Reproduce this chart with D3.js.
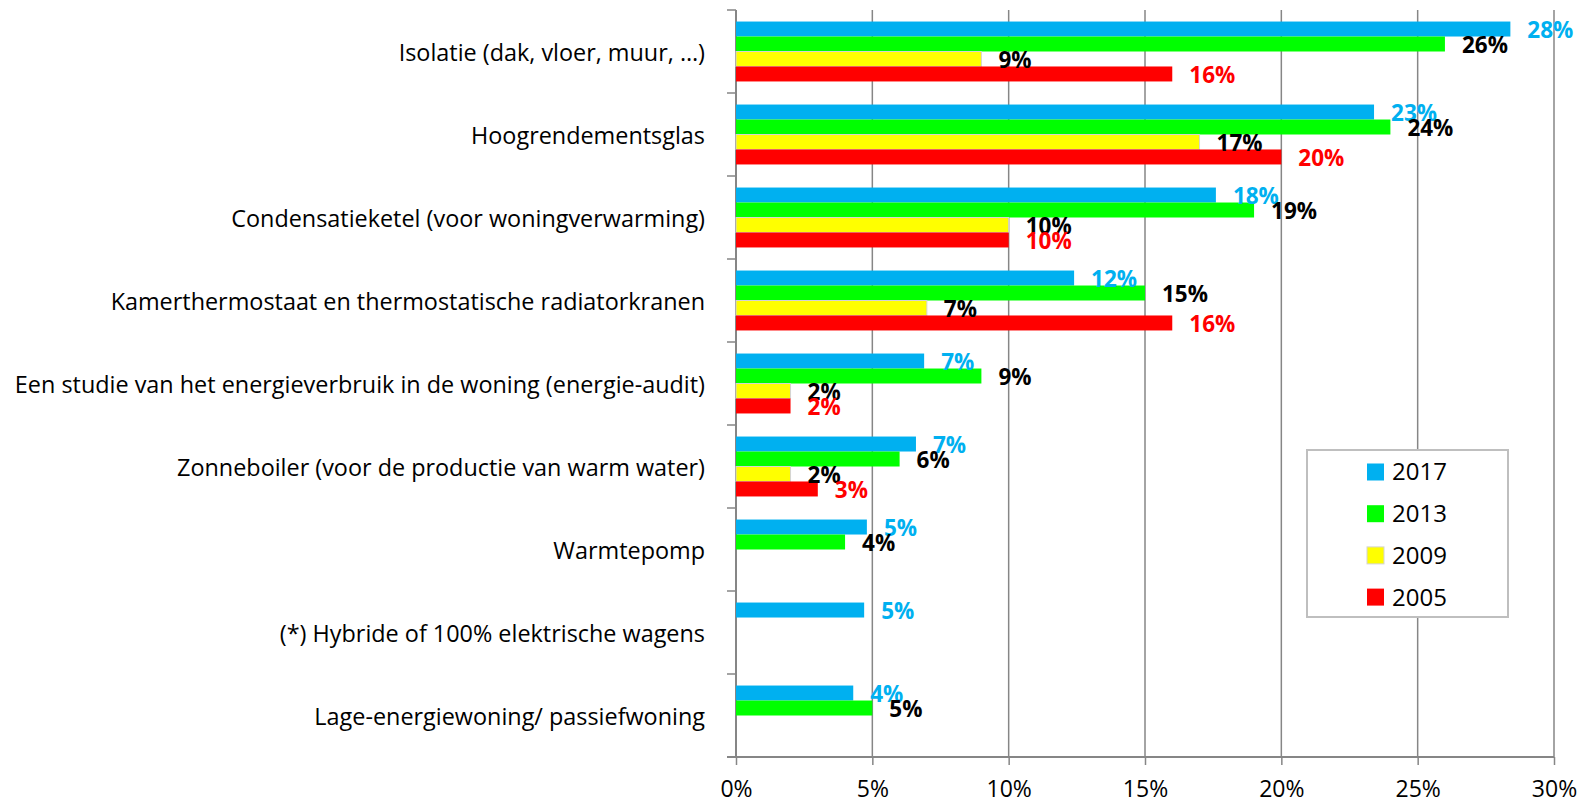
<!DOCTYPE html>
<html>
<head>
<meta charset="utf-8">
<script src="https://cdn.jsdelivr.net/npm/d3@7"></script>
<style>
  body { margin: 0; background: #fff; }
  svg text { font-family: "Open Sans", sans-serif; }
</style>
</head>
<body>
<div id="svgBody"></div>
<script>
// data (percent)
var categories = [
    "Isolatie (dak, vloer, muur, \u2026)",
    "Hoogrendementsglas",
    "Condensatieketel (voor woningverwarming)",
    "Kamerthermostaat en thermostatische radiatorkranen",
    "Een studie van het energieverbruik in de woning (energie-audit)",
    "Zonneboiler (voor de productie van warm water)",
    "Warmtepomp",
    "(*) Hybride of 100% elektrische wagens",
    "Lage-energiewoning/ passiefwoning"
];
var years = ["2017", "2013", "2009", "2005"];
var v2017 = [28.4, 23.4, 17.6, 12.4, 6.9, 6.6, 4.8, 4.7, 4.3];
var v2013 = [26, 24, 19, 15, 9, 6, 4, null, 5];
var v2009 = [9, 17, 10, 7, 2, 2, null, null, null];
var v2005 = [16, 20, 10, 16, 2, 3, null, null, null];
var xTicks = [0, 5, 10, 15, 20, 25, 30];

var barColors = {"2017": "#00b0f0", "2013": "#00ff00", "2009": "#ffff00", "2005": "#ff0000"};
var labelColors = {"2017": "#00b0f0", "2013": "#000000", "2009": "#000000", "2005": "#ff0000"};
var series = {"2017": v2017, "2013": v2013, "2009": v2009, "2005": v2005};

var svgW = 1585, svgH = 804;
var plotLeft = 736, plotRight = 1554, plotTop = 10, plotBottom = 757;
var gridColor = "#868686";

var svg = d3.select("#svgBody")
    .append("svg")
    .attr("width", svgW)
    .attr("height", svgH);

var x = d3.scaleLinear()
    .domain([0, 30])
    .range([plotLeft, plotRight]);

var y = d3.scaleBand()
    .domain(categories)
    .range([plotTop, plotBottom]);

var y1 = d3.scaleBand()
    .domain(years)
    .range([0, y.bandwidth()])
    .paddingOuter(0.77);

// vertical gridlines
svg.append("g")
    .selectAll("line")
    .data(xTicks.slice(1))
    .enter()
    .append("line")
    .attr("x1", function(d) { return x(d); })
    .attr("x2", function(d) { return x(d); })
    .attr("y1", plotTop)
    .attr("y2", plotBottom)
    .attr("stroke", gridColor)
    .attr("stroke-width", 1.5);

// x axis
var xAxis = svg.append("g")
    .attr("transform", "translate(0," + plotBottom + ")")
    .call(d3.axisBottom(x)
        .tickValues(xTicks)
        .tickFormat(function(d) { return d + "%"; })
        .tickSize(8)
        .tickSizeOuter(0));
xAxis.select(".domain").attr("stroke", gridColor).attr("stroke-width", 2)
    .attr("d", "M" + (plotLeft - 9) + ",0H" + plotRight);
xAxis.selectAll(".tick line").attr("stroke", gridColor).attr("stroke-width", 1.5);
xAxis.selectAll(".tick text")
    .attr("y", 32)
    .attr("dy", "0.35em")
    .attr("fill", "#000")
    .attr("font-size", "23px")
    .attr("font-family", "Open Sans");

// y axis line and boundary ticks
svg.append("line")
    .attr("x1", plotLeft).attr("x2", plotLeft)
    .attr("y1", plotTop).attr("y2", plotBottom)
    .attr("stroke", gridColor)
    .attr("stroke-width", 2);

var bounds = categories.map(function(c) { return y(c); }).concat([plotBottom]);
svg.append("g")
    .selectAll("line")
    .data(bounds)
    .enter()
    .append("line")
    .attr("x1", plotLeft - 9).attr("x2", plotLeft)
    .attr("y1", function(d) { return d; })
    .attr("y2", function(d) { return d; })
    .attr("stroke", gridColor)
    .attr("stroke-width", 1.5);

// category labels
svg.append("g")
    .selectAll("text")
    .data(categories)
    .enter()
    .append("text")
    .attr("x", plotLeft - 31)
    .attr("y", function(d) { return y(d) + y.bandwidth() / 2 + 1; })
    .attr("dy", "0.35em")
    .attr("text-anchor", "end")
    .attr("font-size", "23.4px")
    .text(function(d) { return d; });

// bars + value labels
var flat = [];
categories.forEach(function(c, i) {
    years.forEach(function(yr) {
        var v = series[yr][i];
        if (v !== null) flat.push({cat: c, year: yr, value: v});
    });
});

svg.append("g")
    .selectAll("rect")
    .data(flat)
    .enter()
    .append("rect")
    .attr("x", x(0))
    .attr("y", function(d) { return y(d.cat) + y1(d.year); })
    .attr("width", function(d) { return x(d.value) - x(0); })
    .attr("height", y1.bandwidth())
    .attr("fill", function(d) { return barColors[d.year]; })
    .attr("stroke", function(d) { return d.year == "2009" ? "#d4d4d4" : "none"; })
    .attr("stroke-width", 1);

svg.append("g")
    .selectAll("text")
    .data(flat)
    .enter()
    .append("text")
    .attr("x", function(d) { return x(d.value) + 17; })
    .attr("y", function(d) { return y(d.cat) + y1(d.year) + y1.bandwidth() / 2 + 1; })
    .attr("dy", "0.35em")
    .attr("font-size", "22.5px")
    .attr("font-weight", "bold")
    .attr("fill", function(d) { return labelColors[d.year]; })
    .text(function(d) { return Math.round(d.value) + "%"; });

// legend
var legend = svg.append("g");
legend.append("rect")
    .attr("x", 1307).attr("y", 450)
    .attr("width", 201).attr("height", 167)
    .attr("fill", "#fff")
    .attr("stroke", "#bfbfbf")
    .attr("stroke-width", 2);

var items = legend.selectAll("g.item")
    .data(years)
    .enter()
    .append("g")
    .attr("class", "item")
    .attr("transform", function(d, i) { return "translate(1367," + (472 + i * 41.7) + ")"; });

items.append("rect")
    .attr("x", 0).attr("y", -8.5)
    .attr("width", 17).attr("height", 17)
    .attr("fill", function(d) { return barColors[d]; })
    .attr("stroke", function(d) { return d == "2009" ? "#d4d4d4" : "none"; });

items.append("text")
    .attr("x", 25)
    .attr("y", 0)
    .attr("dy", "0.35em")
    .attr("font-size", "24px")
    .text(function(d) { return d; });
</script>
</body>
</html>
